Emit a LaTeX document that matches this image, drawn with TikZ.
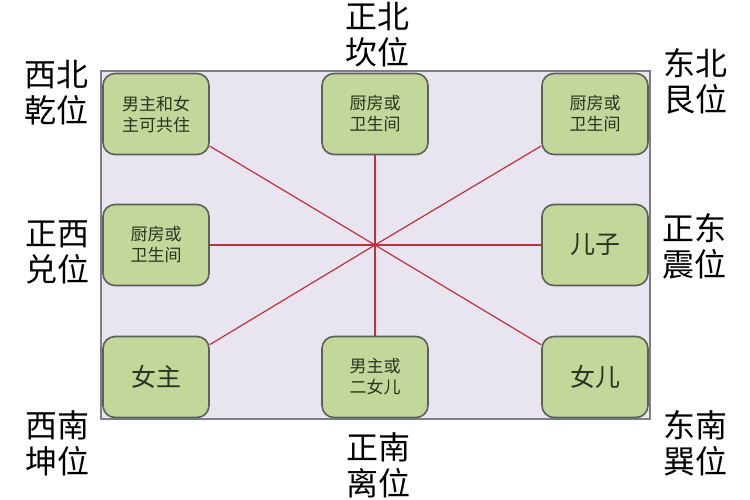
\documentclass[tikz,border=0pt]{standalone}
\usepackage{fontspec}
\setmainfont{Noto Sans CJK SC}
\usetikzlibrary{positioning}
\definecolor{roomfill}{HTML}{C4D79B}
\definecolor{roomedge}{HTML}{58615A}
\definecolor{roomtext}{HTML}{2A3320}
\definecolor{floorfill}{HTML}{E8E4F0}
\definecolor{flooredge}{HTML}{7E7E86}
\definecolor{raycolour}{HTML}{C0303C}

\begin{document}
\begin{tikzpicture}[
          x=1pt, y=-1pt,
          room/.style={draw=roomedge, fill=roomfill, line width=1.6pt, rounded corners=12pt,
                       minimum width=106pt, minimum height=81pt, inner sep=0pt,
                       align=center, text=roomtext, font=\fontsize{17}{21}\selectfont},
          bigroom/.style={room, font=\fontsize{25}{30}\selectfont},
          dir/.style={align=center, font=\fontsize{32}{36}\selectfont},
          ray/.style={draw=raycolour, line width=1.2pt}
        ]
        \useasboundingbox (0,0) rectangle (750,500);
        % floor plan
        \draw [fill=floorfill, draw=flooredge, line width=1.2pt] (101,71) rectangle (650,419);
        \coordinate (c) at (375,245);

        % rooms
        \node [room] (nw) at (156,114) {男主和女\\主可共住};
        \node [room] (n) at (375,114) {厨房或\\卫生间};
        \node [room] (ne) at (595,114) {厨房或\\卫生间};
        \node [room] (w) at (156,245) {厨房或\\卫生间};
        \node [bigroom] (e) at (595,245) {儿子};
        \node [bigroom] (sw) at (156,377) {女主};
        \node [room] (s) at (375,377) {男主或\\二女儿};
        \node [bigroom] (se) at (595,377) {女儿};

        % rays from the centre
        \foreach \r in {nw,n,ne,w,e,sw,s,se}
          \draw [ray] (c) -- (\r);

        % directions
        \node [dir] (lnw) at (56,93) {西北\\乾位};
        \node [dir] (ln) at (377,35) {正北\\坎位};
        \node [dir] (lne) at (695,81) {东北\\艮位};
        \node [dir] (lw) at (57,252) {正西\\兑位};
        \node [dir] (le) at (694,246) {正东\\震位};
        \node [dir] (lsw) at (57,443) {西南\\坤位};
        \node [dir] (ls) at (378,465) {正南\\离位};
        \node [dir] (lse) at (695,443) {东南\\巽位};
        \end{tikzpicture}
\end{document}
